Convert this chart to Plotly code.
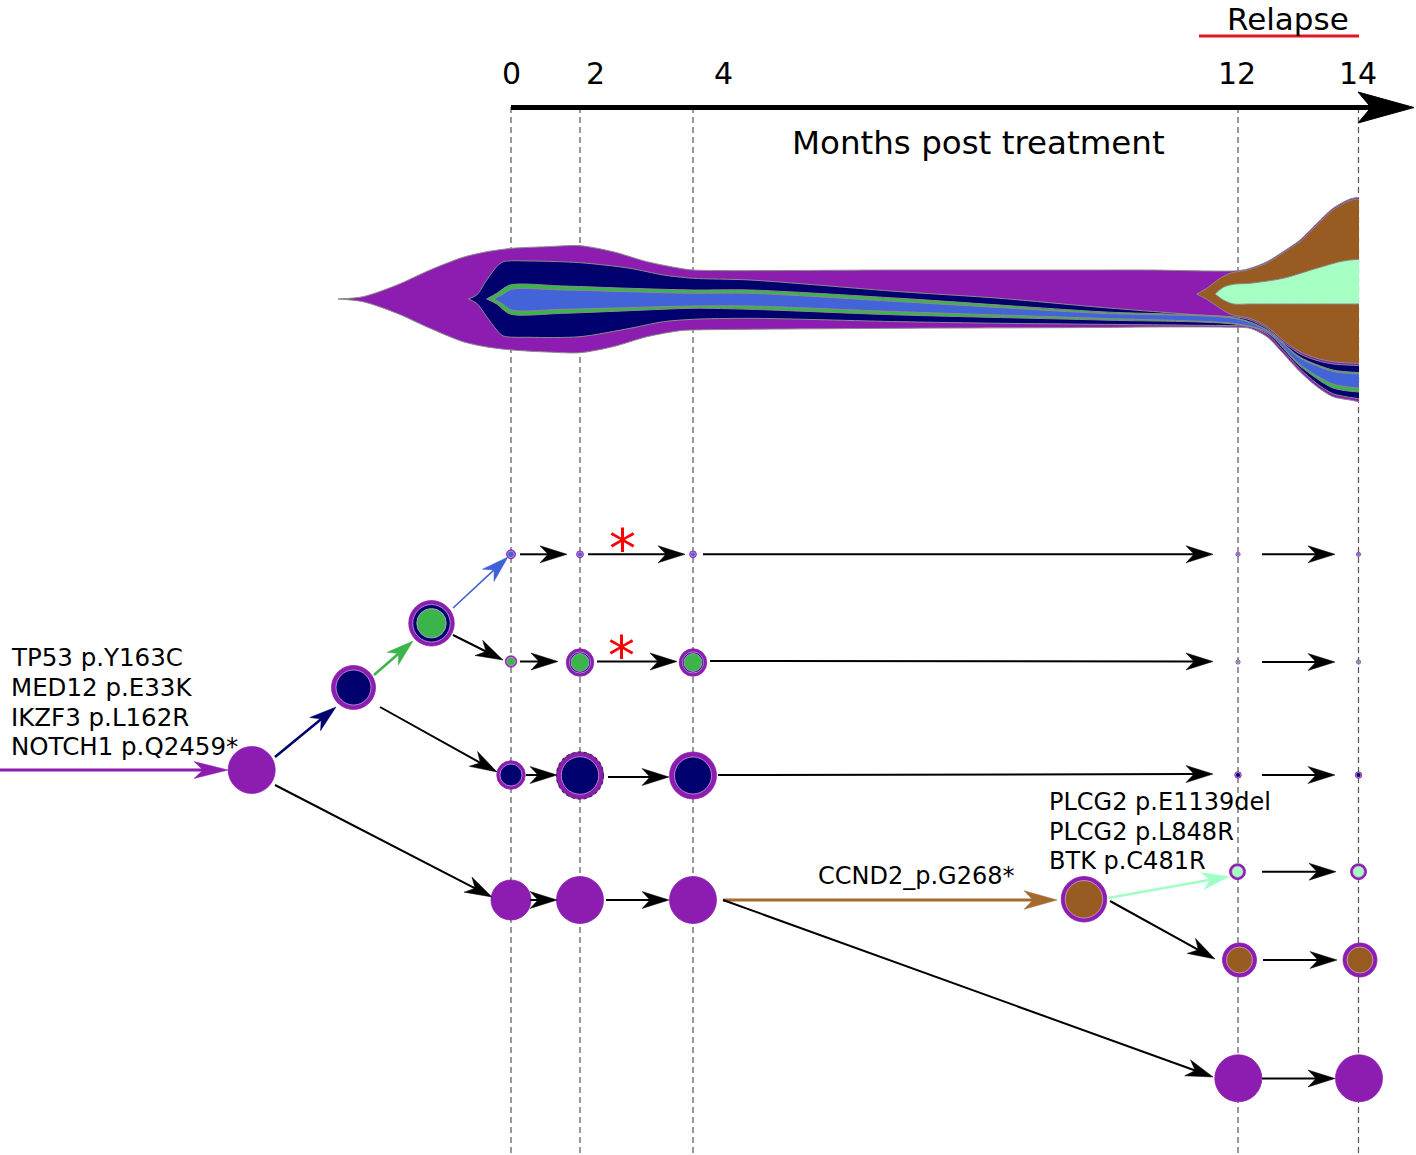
import math
import plotly.graph_objects as go

W, H = 1416, 1155

# ---------------- colours ----------------
PURPLE = "#8C1DB0"
NAVY = "#00006E"
GREEN = "#3BB44A"
BLUE = "#4363D8"
BROWN = "#985B22"
MINT = "#A6FFC3"
BLACK = "#000000"
OUTLINE = "#8A8A8A"
RING = "#C9A2DA"

# ---------------- time axis ----------------
months = ["0", "2", "4", "12", "14"]
month_line_x = [511, 580, 693, 1238, 1358.5]
month_label_x = [511, 595, 723, 1237, 1358]

# ---------------- fish plot (clone boundaries) ----------------
purple_x = [338, 363, 397, 430, 463, 487, 512, 547, 580, 613, 647, 680, 693, 900, 1100, 1150, 1238, 1250, 1267, 1283, 1300, 1317, 1333, 1350, 1359]
purple_top = [299, 296.7, 285, 270, 257.3, 251.7, 248.3, 246.7, 245.7, 251.7, 261.7, 268.3, 270, 270, 270, 270, 270.7, 268.3, 261.7, 251.7, 240, 223.3, 208.3, 199, 197.3]
purple_bot = [299, 301.7, 313.3, 328.3, 341.7, 347, 350, 352, 352.7, 346.7, 336.7, 330.7, 330, 328.3, 327.5, 327, 327.3, 328.3, 336.7, 353.3, 371.7, 386.7, 396.7, 400, 401.7]

navy_x = [468.3, 476.7, 486.7, 496.7, 503.3, 530, 580, 630, 663.3, 693.3, 750, 900, 1000, 1100, 1200, 1238, 1250, 1267, 1283, 1300, 1317, 1333, 1359]
navy_top = [299, 295, 280, 266.7, 261.7, 261, 262.7, 268.3, 275, 278.3, 280, 291.7, 298.3, 307.3, 315, 317.3, 320, 328.5, 342, 354, 360.5, 364, 365.5]
navy_bot = [299, 303.3, 316.7, 330, 336, 337.3, 336.7, 328.3, 321.7, 319.3, 318.3, 321.7, 323.3, 324.3, 325.3, 325.7, 326.5, 334, 350.3, 368.7, 383.7, 393.7, 398.7]

green_x = [486.7, 496.7, 510, 563.3, 630, 693.3, 750, 900, 1100, 1238, 1267, 1300, 1333, 1359]
green_top = [299, 293.3, 285, 286, 288.3, 290, 290, 298.3, 311.7, 318.5, 330, 357, 370, 372.5]
green_bot = [299, 304, 314, 313.3, 310.7, 308.3, 309.3, 315, 320, 324.5, 332.5, 366, 388, 392]

blue_x = [493.3, 501.7, 511.7, 563.3, 693.3, 750, 900, 1100, 1238, 1267, 1300, 1333, 1359]
blue_top = [299, 295, 289.3, 290, 293.3, 293.3, 301.7, 313.3, 319, 330.5, 358, 371.5, 374]
blue_bot = [299, 303.3, 310, 309.3, 306, 306, 311.7, 318.3, 324, 332, 364.5, 384, 388]

brown_x = [1196.7, 1206.7, 1220, 1230, 1238, 1250, 1267, 1283, 1300, 1317, 1333, 1350, 1359]
brown_top = [294, 288.3, 278.3, 273.3, 271.7, 269.5, 263, 253, 241.5, 225, 210, 200.5, 199]
brown_bot = [294, 299.3, 308.3, 314, 316, 318.3, 326.7, 340, 351.7, 358.3, 361.7, 363, 363.3]

mint_x = [1215, 1223.3, 1233.3, 1250, 1283.3, 1316.7, 1343.3, 1359]
mint_top = [294, 287.3, 284.3, 283.3, 278.3, 268.3, 261, 259.3]
mint_bot = [294, 300, 304, 304, 304, 304, 304, 304]

fish = [
    (purple_x, purple_top, purple_bot, PURPLE),
    (navy_x, navy_top, navy_bot, NAVY),
    (green_x, green_top, green_bot, GREEN),
    (blue_x, blue_top, blue_bot, BLUE),
    (brown_x, brown_top, brown_bot, BROWN),
    (mint_x, mint_top, mint_bot, MINT),
]

# ---------------- tree nodes: (x, y, [(diameter, colour), ...outer->inner]) ----------------
nodes = [
    (251.7, 770, [(47, PURPLE)]),
    (353.5, 687.5, [(44, PURPLE), (35, NAVY)]),
    (431.5, 623.3, [(45.5, PURPLE), (37.5, NAVY), (29.5, GREEN)]),
    # blue sub-clone row
    (511, 554.3, [(9, PURPLE), (6.6, BLUE)]),
    (580, 554.3, [(6.8, PURPLE), (4.8, BLUE)]),
    (693, 554.3, [(6.8, PURPLE), (4.8, BLUE)]),
    (1238, 554.3, [(4.2, PURPLE), (3, BLUE)]),
    (1358.5, 554.3, [(4.2, PURPLE), (3, BLUE)]),
    # green sub-clone row
    (511, 661.5, [(11.5, PURPLE), (8.5, GREEN)]),
    (580, 662.5, [(27.5, PURPLE), (21, NAVY), (18, GREEN)]),
    (693, 662.5, [(27.5, PURPLE), (21, NAVY), (18, GREEN)]),
    (1238, 662, [(4.2, PURPLE), (3, GREEN)]),
    (1358.5, 662, [(4.2, PURPLE), (3, GREEN)]),
    # navy row
    (511, 775, [(28.5, PURPLE), (22, NAVY)]),
    (580, 775.5, [(47, PURPLE), (37.5, NAVY)]),
    (693, 775.5, [(47, PURPLE), (37, NAVY)]),
    (1238, 775, [(6.5, PURPLE), (5, NAVY)]),
    (1358.5, 775, [(6.5, PURPLE), (5, NAVY)]),
    # founder row
    (511, 900, [(40, PURPLE)]),
    (580, 900, [(47, PURPLE)]),
    (693, 900, [(47, PURPLE)]),
    # relapse clones
    (1084, 899.3, [(45.5, PURPLE), (37.5, BROWN)]),
    (1237.5, 871.7, [(16, PURPLE), (11, MINT)]),
    (1358.5, 871.7, [(16, PURPLE), (11, MINT)]),
    (1239.5, 960, [(34, PURPLE), (26, BROWN)]),
    (1360, 960, [(34, PURPLE), (26, BROWN)]),
    (1238.3, 1078.3, [(47, PURPLE)]),
    (1359, 1078.3, [(47, PURPLE)]),
]
dotted_node = (580, 775.5, 47)

# ---------------- arrows: (x0, y0, x1, y1, colour, width) ----------------
arrows = [
    (0, 770, 228, 770, PURPLE, 3),
    (275, 757, 336, 707, NAVY, 2.5),
    (374, 675, 413, 641, GREEN, 2.5),
    (453, 608, 508, 557, "#4060D8", 1.6),
    (453, 635, 503, 660, BLACK, 2),
    (380, 707, 497, 772, BLACK, 2),
    (275, 785, 492, 897, BLACK, 2),
    (520, 554.3, 567, 554.3, BLACK, 2),
    (588, 554.3, 685, 554.3, BLACK, 2),
    (703, 554.3, 1213, 554.3, BLACK, 2),
    (1262, 554.3, 1335, 554.3, BLACK, 2),
    (520, 661.5, 558, 661.5, BLACK, 2),
    (597, 661.5, 677, 661.5, BLACK, 2),
    (710, 661, 1213, 661.5, BLACK, 2),
    (1262, 662, 1335, 662, BLACK, 2),
    (526, 775, 557, 775, BLACK, 2),
    (608, 777, 669, 777, BLACK, 2),
    (718, 775, 1213, 774, BLACK, 2),
    (1262, 775, 1335, 775, BLACK, 2),
    (530, 900, 557, 900, BLACK, 2),
    (606, 900, 669, 900, BLACK, 2),
    (723, 900, 1057, 900, "#A4692E", 3),
    (723, 900, 1213, 1077, BLACK, 2),
    (1262, 1078.5, 1335, 1078.5, BLACK, 2),
    (1108, 898, 1229, 876.5, "#A0FFC4", 2.5),
    (1110, 901, 1215, 959, BLACK, 2),
    (1262, 871.7, 1336, 871.7, BLACK, 2),
    (1263, 960, 1337, 960, BLACK, 2),
]

# ---------------- labels ----------------
founder_muts = ["TP53 p.Y163C", "MED12 p.E33K", "IKZF3 p.L162R", "NOTCH1 p.Q2459*"]
founder_mut_y = [657, 687, 717, 746]
relapse_muts = ["PLCG2 p.E1139del", "PLCG2 p.L848R", "BTK p.C481R"]
relapse_mut_y = [802, 831.5, 861]
ccnd2_label = "CCND2_p.G268*"
asterisk_pos = [(622.5, 538), (621, 645)]

FONT = "DejaVu Sans"

fig = go.Figure()

# fish plot
for xs, top, bot, col in fish:
    fig.add_trace(go.Scatter(x=xs, y=bot, mode="lines",
                             line=dict(color=OUTLINE, width=1, shape="spline", smoothing=0.8),
                             hoverinfo="skip", showlegend=False))
    fig.add_trace(go.Scatter(x=xs, y=top, mode="lines", fill="tonexty", fillcolor=col,
                             line=dict(color=OUTLINE, width=1, shape="spline", smoothing=0.8),
                             hoverinfo="skip", showlegend=False))

# nodes
nx, ny, ns, nc, nl = [], [], [], [], []
for x, y, layers in nodes:
    for i, (d, c) in enumerate(layers):
        nx.append(x); ny.append(y); ns.append(d); nc.append(c)
        nl.append(c if i == 0 else RING)
fig.add_trace(go.Scatter(x=nx, y=ny, mode="markers",
                         marker=dict(size=ns, color=nc, line=dict(color=nl, width=0.8), opacity=1),
                         hoverinfo="skip", showlegend=False))

shapes = []
# dashed time lines
for x in month_line_x:
    shapes.append(dict(type="line", x0=x, x1=x, y0=107, y1=H, xref="x", yref="y",
                       line=dict(color="#555555", width=1.2, dash="6px,4px"), layer="below"))

# timeline arrow
tl_y, tl_x0, tl_tip = 107.5, 511, 1414
shapes.append(dict(type="line", x0=tl_x0, x1=tl_tip - 42, y0=tl_y, y1=tl_y,
                   line=dict(color=BLACK, width=5), layer="above"))
shapes.append(dict(type="path",
                   path=f"M{tl_tip},{tl_y} L{tl_tip-56},{tl_y-15.5} L{tl_tip-43},{tl_y} L{tl_tip-56},{tl_y+15.5} Z",
                   fillcolor=BLACK, line=dict(color=BLACK, width=1), layer="above"))

# relapse bar
shapes.append(dict(type="line", x0=1199, x1=1359, y0=36, y1=36, line=dict(color="#E0161E", width=3)))


def add_arrow(x0, y0, x1, y1, color, lw, L=27, hw=8.5, notch=8):
    dx, dy = x1 - x0, y1 - y0
    d = math.hypot(dx, dy)
    ux, uy = dx / d, dy / d
    px, py = -uy, ux
    bx, by = x1 - L * ux, y1 - L * uy
    nxp, nyp = x1 - (L - notch) * ux, y1 - (L - notch) * uy
    shapes.append(dict(type="line", x0=x0, y0=y0, x1=nxp, y1=nyp,
                       line=dict(color=color, width=lw), layer="above"))
    path = (f"M{x1:.2f},{y1:.2f} L{bx + hw * px:.2f},{by + hw * py:.2f} "
            f"L{nxp:.2f},{nyp:.2f} L{bx - hw * px:.2f},{by - hw * py:.2f} Z")
    shapes.append(dict(type="path", path=path, fillcolor=color,
                       line=dict(color=color, width=0.5), layer="above"))


for a in arrows:
    x0, y0, x1, y1, c, w = a
    if x0 == 0:
        add_arrow(x0, y0, x1, y1, c, w, L=34, hw=8.5, notch=9)
    elif c == "#A4692E":
        add_arrow(x0, y0, x1, y1, c, w, L=33, hw=9.3, notch=9)
    else:
        add_arrow(x0, y0, x1, y1, c, w)

# dotted outline
cx, cy, d = dotted_node
shapes.append(dict(type="circle", x0=cx - d / 2, x1=cx + d / 2, y0=cy - d / 2, y1=cy + d / 2,
                   line=dict(color="#333333", width=1.2, dash="dot"), layer="above"))

annotations = []
for lab, x in zip(months, month_label_x):
    annotations.append(dict(x=x, y=73, text=lab, showarrow=False, xanchor="center", yanchor="middle",
                            font=dict(family=FONT, size=30, color=BLACK)))
annotations.append(dict(x=978, y=143, text="Months post treatment", showarrow=False,
                        xanchor="center", yanchor="middle", font=dict(family=FONT, size=32.5, color=BLACK)))
annotations.append(dict(x=1288, y=0, text="Relapse", showarrow=False, borderpad=0,
                        xanchor="center", yanchor="top", font=dict(family=FONT, size=31, color=BLACK)))
for lab, y in zip(founder_muts, founder_mut_y):
    annotations.append(dict(x=9, y=y, text=lab, showarrow=False, xanchor="left", yanchor="middle",
                            font=dict(family=FONT, size=24.5, color=BLACK)))
for lab, y in zip(relapse_muts, relapse_mut_y):
    annotations.append(dict(x=1047, y=y, text=lab, showarrow=False, xanchor="left", yanchor="middle",
                            font=dict(family=FONT, size=24, color=BLACK)))
annotations.append(dict(x=916.5, y=876, text=ccnd2_label, showarrow=False, xanchor="center",
                        yanchor="middle", font=dict(family=FONT, size=24, color=BLACK)))
for x, y in asterisk_pos:
    annotations.append(dict(x=x, y=y + 10, text="*", showarrow=False, xanchor="center", yanchor="middle",
                            font=dict(family=FONT, size=54, color="#FF0000")))

fig.update_layout(
    width=W, height=H,
    margin=dict(l=0, r=0, t=0, b=0),
    paper_bgcolor="white", plot_bgcolor="white",
    xaxis=dict(range=[0, W], visible=False, fixedrange=True),
    yaxis=dict(range=[H, 0], visible=False, fixedrange=True),
    shapes=shapes, annotations=annotations, showlegend=False,
)

fig.write_html("out.html", config={"displayModeBar": False},
               post_script="document.body.style.margin='0';document.body.style.overflow='hidden';")
